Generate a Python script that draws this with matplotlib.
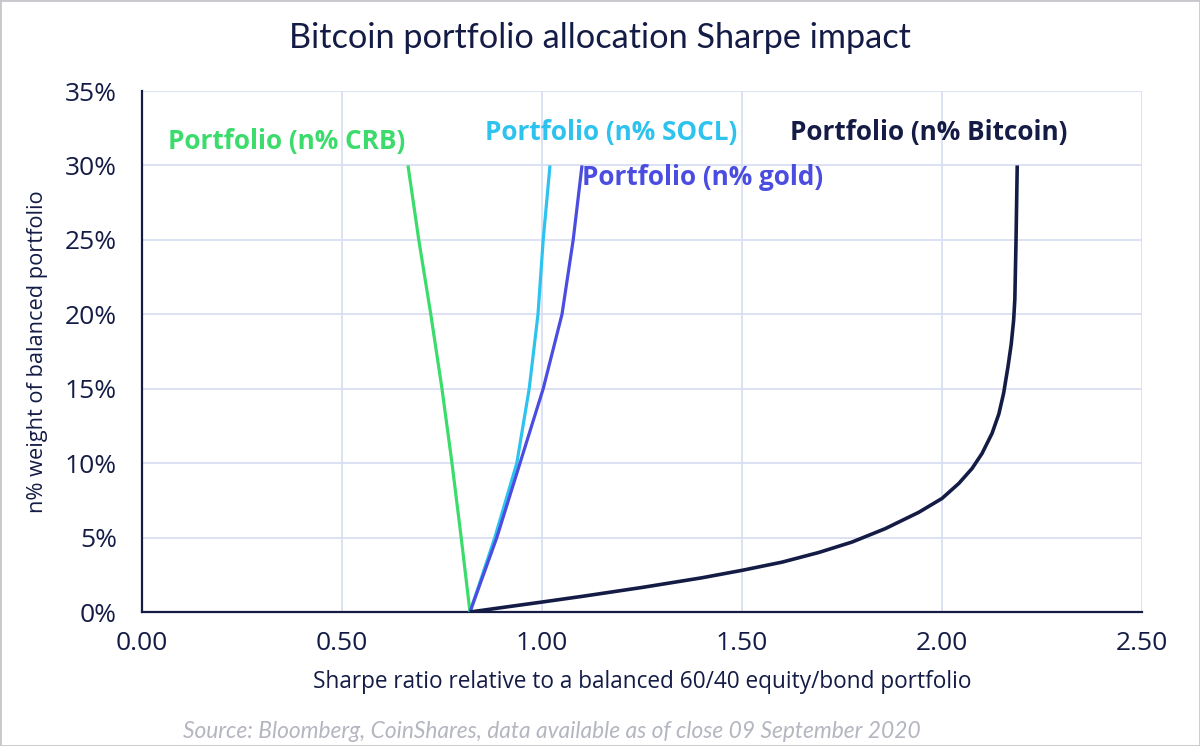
import matplotlib
matplotlib.use("Agg")
import matplotlib.pyplot as plt
from matplotlib.ticker import FuncFormatter, MultipleLocator
from matplotlib.patches import Rectangle

# values (x = Sharpe ratio, y = % weight)
crb_x = [0.82, 0.798, 0.775, 0.75, 0.722, 0.692, 0.665]
crb_y = [0, 5, 10, 15, 20, 25, 30]

socl_x = [0.82, 0.882, 0.937, 0.968, 0.99, 1.003, 1.02]
socl_y = [0, 5, 10, 15, 20, 25, 30]

gold_x = [0.82, 0.887, 0.945, 1.003, 1.05, 1.078, 1.10]
gold_y = [0, 5, 10, 15, 20, 25, 30]

btc_x = [0.82, 0.9, 1.0, 1.1, 1.25, 1.4, 1.5, 1.6, 1.692, 1.775, 1.858, 1.942,
         2.0, 2.042, 2.075, 2.1, 2.125, 2.142, 2.154, 2.165, 2.173, 2.179,
         2.182, 2.185, 2.188]
btc_y = [0, 0.3, 0.67, 1.05, 1.65, 2.3, 2.8, 3.35, 4.0, 4.7, 5.6, 6.7,
         7.63, 8.64, 9.64, 10.65, 12.0, 13.3, 14.7, 16.5, 18.0, 19.6,
         21, 25, 30]

series_names = ["Portfolio (n% CRB)", "Portfolio (n% SOCL)",
                "Portfolio (n% gold)", "Portfolio (n% Bitcoin)"]

navy = "#141c46"
green = "#3bdc6c"
cyan = "#2ec3ee"
indigo = "#4a4ddf"
grid_col = "#dadef3"

plt.rcParams["font.family"] = ["Open Sans", "DejaVu Sans"]

fig = plt.figure(figsize=(12, 7.46), dpi=100)
ax = fig.add_axes([0.1183, 0.1796, 0.8334, 0.6984])

ax.plot(crb_x, crb_y, color=green, lw=2.3, solid_capstyle="butt")
ax.plot(socl_x, socl_y, color=cyan, lw=2.3, solid_capstyle="butt")
ax.plot(gold_x, gold_y, color=indigo, lw=2.3, solid_capstyle="butt")
ax.plot(btc_x, btc_y, color=navy, lw=2.6, solid_capstyle="butt")

ax.set_xlim(0, 2.5)
ax.set_ylim(0, 35)
ax.xaxis.set_major_locator(MultipleLocator(0.5))
ax.yaxis.set_major_locator(MultipleLocator(5))
ax.xaxis.set_major_formatter(FuncFormatter(lambda v, p: f"{v:.2f}"))
ax.yaxis.set_major_formatter(FuncFormatter(lambda v, p: f"{v:.0f}%"))
ax.grid(True, color=grid_col, lw=1.3)
ax.set_axisbelow(True)
ax.tick_params(length=0, labelsize=19, colors=navy)
ax.tick_params(axis="x", pad=14)
ax.tick_params(axis="y", pad=18)

for s in ["top", "right"]:
    ax.spines[s].set_visible(False)
for s in ["left", "bottom"]:
    ax.spines[s].set_color(navy)
    ax.spines[s].set_linewidth(1.6)
    ax.spines[s].set_zorder(1)

# series labels
lab_kw = dict(fontsize=18.8, fontweight="bold", va="center", ha="left")
ax.text(0.065, 31.6, series_names[0], color=green, **lab_kw)
ax.text(0.857, 32.2, series_names[1], color=cyan, **lab_kw)
ax.text(1.10, 29.2, series_names[2], color=indigo, **lab_kw)
ax.text(1.62, 32.2, series_names[3], color=navy, **lab_kw)

ax.set_xlabel("Sharpe ratio relative to a balanced 60/40 equity/bond portfolio",
              fontsize=16.3, color=navy, labelpad=10)
ax.set_ylabel("n% weight of balanced portfolio", fontsize=15.7, color=navy, labelpad=12)

fig.text(0.5, 0.949, "Bitcoin portfolio allocation Sharpe impact",
         ha="center", va="center", fontsize=24.7, color=navy, family="Lato")
fig.text(0.46, 0.02, "Source: Bloomberg, CoinShares, data available as of close 09 September 2020",
         ha="center", va="center", fontsize=16.4, color="#b4b6c0", style="italic",
         family="Lato")

fig.patches.append(Rectangle((0, 0), 1, 1, transform=fig.transFigure,
                             fill=False, edgecolor="#c8c8cc", lw=2))

fig.savefig("out.png", dpi=100)
